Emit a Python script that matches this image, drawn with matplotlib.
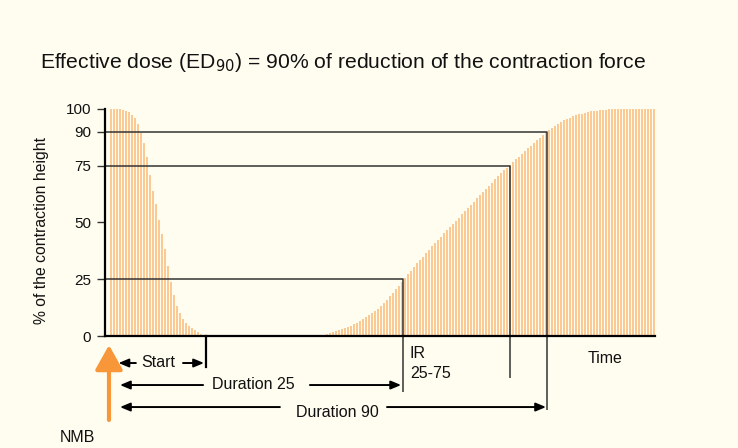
import matplotlib
matplotlib.use("Agg")
import matplotlib.pyplot as plt
import numpy as np

plt.rcParams["font.family"] = ["Liberation Sans", "DejaVu Sans"]

# twitch heights (% of control), one bar per stimulus
decay = [100, 100, 100, 99.8, 99.5, 99.2, 98.7, 97.5, 96, 93.5, 89.5, 85, 79, 71,
         64, 58, 51, 45, 38.5, 31, 24, 18, 13, 10, 7.5, 5.8, 4.5, 3.5, 2.5, 1.6, 0.8, 0.3]
block = [0.0] * 39
recovery = [0.4, 0.8, 1.2, 1.6, 2.0, 2.5, 3.0, 3.5, 4.0, 4.6, 5.2, 5.9, 6.6, 7.4, 8.2,
            9.1, 10.0, 11.0, 12.0, 13.2, 14.5, 16.0, 17.5, 19.0, 20.6, 22.2, 24.0, 25.6,
            27.2, 28.8, 30.4, 32.0, 33.5, 35.0, 36.5, 38.0, 39.5, 41.0, 42.4, 43.8, 45.2,
            46.6, 48.0, 49.4, 50.8, 52.2, 53.6, 55.0, 56.4, 57.8, 59.2, 60.6, 62.0, 63.4,
            64.8, 66.2, 67.6, 69.0, 70.4, 71.8, 73.0, 74.2, 75.4, 76.6, 77.8, 79.0, 80.2,
            81.4, 82.6, 83.8, 85.0, 86.2, 87.4, 88.6, 89.8, 90.8, 91.8, 92.7, 93.5, 94.3,
            95.0, 95.6, 96.2, 96.7, 97.2, 97.6, 98.0, 98.3, 98.6, 98.9, 99.1, 99.3, 99.5,
            99.6, 99.7, 99.8, 99.9,
            100, 100, 100, 100, 100, 100, 100, 100, 100, 100, 100, 100, 100, 100]
heights = decay + block + recovery

yticks = [0, 25, 50, 75, 90, 100]
# event times (bar-index units)
t_start, t25, t75, t90 = 31.7, 97.3, 133.0, 145.3

bg = "#fffdf0"
ink = "#333333"
fig = plt.figure(figsize=(7.38, 4.48), dpi=100, facecolor=bg)
ax = fig.add_axes([105/738, 112/448, 550/738, 227/448], facecolor=bg)

x = np.arange(len(heights))
ax.bar(x, heights, width=0.7, color="#fbca94", linewidth=0, zorder=1)
ax.set_xlim(-2, 181.33)
ax.set_ylim(0, 100)
ax.set_yticks(yticks)
ax.set_xticks([])
ax.tick_params(axis="y", length=6, width=1, color=ink, pad=4, labelsize=11,
               labelcolor="#111111")
for s in ("top", "right"):
    ax.spines[s].set_visible(False)
for s in ("left", "bottom"):
    ax.spines[s].set_linewidth(1.6)
    ax.spines[s].set_zorder(4)

line = dict(color=ink, lw=1.1, clip_on=False, zorder=3, solid_capstyle="butt")
ax.plot([-2, t25, t25], [25, 25, -24.7], **line)
ax.plot([-2, t75, t75], [75, 75, -18.5], **line)
ax.plot([-2, t90, t90], [90, 90, -32.6], **line)
ax.plot([t_start, t_start], [0, -13.7], color="black", lw=1.6, clip_on=False, zorder=3)

def arrow(x0, x1, y):
    ax.annotate("", xy=(x1, y), xytext=(x0, y), xycoords="data", annotation_clip=False,
                arrowprops=dict(arrowstyle="-|>,head_length=0.6,head_width=0.25",
                                color="black", lw=1.4, mutation_scale=10,
                                shrinkA=0, shrinkB=0))

tk = dict(fontsize=11.5, color="#111111", va="center")
# Start
arrow(8.3, 2.5, -11.9); arrow(24.0, 31.0, -11.9)
ax.text(15.6, -11.5, "Start", ha="center", **tk)
# Duration 25
arrow(30.7, 3.0, -21.6); arrow(66.3, 96.7, -21.6)
ax.text(47.3, -21.2, "Duration 25", ha="center", **tk)
# Duration 90
arrow(56.3, 3.0, -31.3); arrow(92.0, 145.0, -31.3)
ax.text(75.5, -33.5, "Duration 90", ha="center", **tk)

ax.text(t25 + 2.3, -7.5, "IR", ha="left", **tk)
ax.text(t25 + 2.3, -16.3, "25-75", ha="left", **tk)
ax.text(164.7, -10.0, "Time", ha="center", **tk)

# NMB injection
ax.annotate("", xy=(-0.67, -4.0), xytext=(-0.67, -37.0), annotation_clip=False,
            arrowprops=dict(arrowstyle="-|>,head_length=0.75,head_width=0.42",
                            color="#f7973a", lw=3, mutation_scale=20,
                            shrinkA=0, shrinkB=0))
ax.text(-11.3, -44.5, "NMB", ha="center", **tk)

fig.text(40/738, 1 - 62/448, r"Effective dose (ED$_{90}$) = 90% of reduction of the contraction force",
         fontsize=15.2, va="center", ha="left", color="#111111")
fig.text(42/738, 1 - 231/448, "% of the contraction height", rotation=90,
         fontsize=11.3, va="center", ha="center", color="#111111")

fig.savefig("out.png", dpi=100, facecolor=bg)
